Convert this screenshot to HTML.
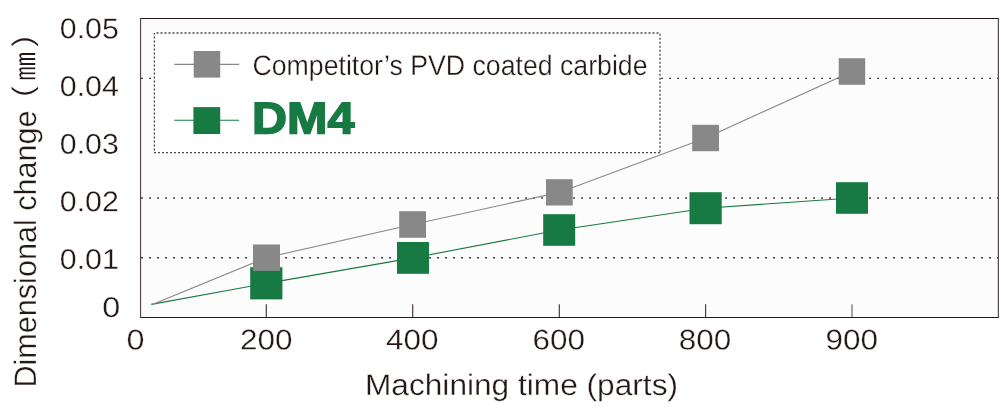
<!DOCTYPE html>
<html lang="en">
<head>
<meta charset="utf-8">
<title>Dimensional change vs machining time</title>
<style>
  html, body { margin: 0; padding: 0; background: #ffffff; }
  body { width: 1001px; height: 414px; overflow: hidden; }
  svg { display: block; }
  text { text-rendering: geometricPrecision; font-family: "Liberation Sans", "Noto Sans CJK JP", sans-serif; fill: #231815; }
  .lbl { font-size: 29px; stroke: #ffffff; stroke-width: 0.3px; }
  .num { font-size: 28.6px; stroke: #ffffff; stroke-width: 0.3px; }
  .cjk { font-family: "Liberation Sans", "IPAGothic", "Noto Sans CJK JP", sans-serif; font-size: 28px; }
  .dm4 { font-weight: bold; fill: #187a43; stroke: #187a43; stroke-width: 1.6px; stroke-linejoin: miter; font-size: 44.6px; }
</style>
</head>
<body>
<svg width="1001" height="414" viewBox="0 0 1001 414">
  <!-- plot area -->
  <rect x="140.5" y="18.5" width="858" height="299" fill="#fcfcfc"/>
  <g fill="none" stroke-linecap="butt">
    <line x1="139.95" y1="18.45" x2="999" y2="18.45" stroke="#231815" stroke-width="1.15"/>
    <line x1="139.95" y1="317.45" x2="999" y2="317.45" stroke="#231815" stroke-width="1.15"/>
    <line x1="140.55" y1="18" x2="140.55" y2="318" stroke="#544a48" stroke-width="1.2"/>
    <line x1="998.4" y1="18" x2="998.4" y2="318" stroke="#544a48" stroke-width="1.2"/>
  </g>

  <!-- dotted grid lines -->
  <g stroke="#4a4340" stroke-width="1.35" stroke-dasharray="2 6" fill="none">
    <line x1="141" y1="78.3" x2="998" y2="78.3"/>
    <line x1="141" y1="198" x2="998" y2="198"/>
    <line x1="141" y1="257.7" x2="998" y2="257.7"/>
  </g>

  <!-- x ticks -->
  <g stroke="#403634" stroke-width="1.15" fill="none">
    <line x1="266.3" y1="304.3" x2="266.3" y2="317"/>
    <line x1="412.7" y1="304.3" x2="412.7" y2="317"/>
    <line x1="559.3" y1="304.3" x2="559.3" y2="317"/>
    <line x1="705.6" y1="304.3" x2="705.6" y2="317"/>
    <line x1="852" y1="304.3" x2="852" y2="317" stroke="#777" stroke-width="1.3"/>
  </g>

  <!-- legend box -->
  <rect x="154.4" y="33" width="505.6" height="119.6" fill="#ffffff"/>
  <g stroke="#4f4643" stroke-width="1.3" stroke-dasharray="2 2" fill="none">
    <line x1="154.4" y1="33" x2="660" y2="33" stroke-dashoffset="1.9"/>
    <line x1="660" y1="33" x2="660" y2="152.6" stroke-dashoffset="3.2"/>
    <line x1="153.75" y1="152.6" x2="660" y2="152.6" stroke-dashoffset="3.75"/>
    <line x1="154.4" y1="33" x2="154.4" y2="152.6" stroke-dashoffset="0.5"/>
  </g>

  <!-- series lines -->
  <polyline points="151.3,304.4 266.3,283.4 413,257.9 559.2,230 705.6,208.2 852,198" fill="none" stroke="#187a43" stroke-width="1.1"/>

  <!-- green markers -->
  <g fill="#187a43">
    <rect x="250.2" y="267.2" width="32.2" height="32.2"/>
    <rect x="397" y="242" width="32" height="31.8"/>
    <rect x="543.2" y="214.2" width="32" height="31.6"/>
    <rect x="689.5" y="192.2" width="32.2" height="32"/>
    <rect x="836" y="182.2" width="32" height="31.6"/>
  </g>
  <polyline points="153.5,303.9 266.5,257.6 412.6,224.5 559.4,192.4 705.6,138 852,71.5" fill="none" stroke="#888888" stroke-width="1.1"/>
  <!-- gray markers -->
  <g fill="#888888">
    <rect x="253" y="244.5" width="27" height="26.4"/>
    <rect x="399.2" y="211.2" width="26.8" height="26.6"/>
    <rect x="546" y="179.2" width="26.7" height="26.3"/>
    <rect x="692.2" y="124.8" width="26.8" height="26.4"/>
    <rect x="838.7" y="58.2" width="26.5" height="26.6"/>
  </g>

  <!-- legend entries -->
  <line x1="174.4" y1="64.4" x2="239.2" y2="64.4" stroke="#888888" stroke-width="1.1"/>
  <rect x="193.7" y="51" width="26.5" height="26.6" fill="#888888"/>
  <text class="lbl" style="font-size:28.3px" x="252.5" y="75" textLength="395" lengthAdjust="spacingAndGlyphs">Competitor’s PVD coated carbide</text>

  <line x1="174.3" y1="120.3" x2="239.1" y2="120.3" stroke="#187a43" stroke-width="1.1"/>
  <rect x="193.4" y="107.1" width="26.8" height="26.9" fill="#187a43"/>
  <text class="dm4" transform="translate(252 133.4) rotate(0.05)" textLength="102.4" lengthAdjust="spacingAndGlyphs">DM4</text>

  <!-- y axis tick labels -->
  <g class="num">
    <text transform="translate(59.8 38.35) rotate(0.05)" textLength="59" lengthAdjust="spacingAndGlyphs">0.05</text>
    <text transform="translate(59.8 96) rotate(0.05)" textLength="59" lengthAdjust="spacingAndGlyphs">0.04</text>
    <text transform="translate(59.8 153.65) rotate(0.05)" textLength="59" lengthAdjust="spacingAndGlyphs">0.03</text>
    <text transform="translate(59.8 211.3) rotate(0.05)" textLength="59" lengthAdjust="spacingAndGlyphs">0.02</text>
    <text transform="translate(59.8 269) rotate(0.05)" textLength="59" lengthAdjust="spacingAndGlyphs">0.01</text>
    <text transform="translate(102.3 316.95) rotate(0.05)" textLength="18" lengthAdjust="spacingAndGlyphs">0</text>
  </g>

  <!-- x axis tick labels -->
  <g class="num">
    <text transform="translate(126.4 349.5) rotate(0.05)" textLength="18" lengthAdjust="spacingAndGlyphs">0</text>
    <text transform="translate(240 349.5) rotate(0.05)" textLength="52.5" lengthAdjust="spacingAndGlyphs">200</text>
    <text transform="translate(386 349.5) rotate(0.05)" textLength="52.5" lengthAdjust="spacingAndGlyphs">400</text>
    <text transform="translate(532.5 349.5) rotate(0.05)" textLength="52.5" lengthAdjust="spacingAndGlyphs">600</text>
    <text transform="translate(678.8 349.5) rotate(0.05)" textLength="52.5" lengthAdjust="spacingAndGlyphs">800</text>
    <text transform="translate(825.5 349.5) rotate(0.05)" textLength="52.5" lengthAdjust="spacingAndGlyphs">900</text>
  </g>

  <!-- axis titles -->
  <text class="lbl" style="font-size:29.8px" x="365" y="395" textLength="313" lengthAdjust="spacingAndGlyphs">Machining time (parts)</text>
  <text transform="translate(35.5 387.5) rotate(-90)"><tspan class="lbl" style="font-size:31px" x="0" y="0" textLength="277" lengthAdjust="spacingAndGlyphs">Dimensional change</tspan><tspan class="cjk" style="font-size:29.5px" x="273.6" y="0.6">（</tspan><tspan class="cjk" x="305.9" y="1.8" style="font-size:33px;stroke:#ffffff;stroke-width:0.25px" textLength="30.8" lengthAdjust="spacingAndGlyphs">㎜</tspan><tspan class="cjk" style="font-size:29.5px" x="339.1" y="0.6">）</tspan></text>
</svg>
</body>
</html>
